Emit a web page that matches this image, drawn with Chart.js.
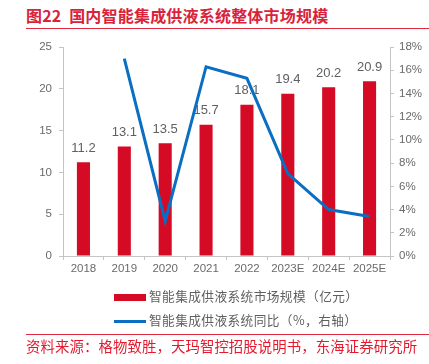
<!DOCTYPE html>
<html>
<head>
<meta charset="utf-8">
<script src="https://cdn.jsdelivr.net/npm/chart.js@4/dist/chart.umd.min.js"></script>
<style>
	body { margin: 0; width: 429px; height: 364px; position: relative; background: #fff; overflow: hidden;
	       font-family: "Noto Sans CJK SC", "Liberation Sans", sans-serif; }
	#title { position: absolute; left: 26px; top: 4px; font-size: 16px; font-weight: bold; color: #d9233a; white-space: nowrap; line-height: 22px; letter-spacing: 0.2px; }
	.rule { position: absolute; left: 26px; width: 403px; height: 1.5px; background: #e0283e; }
	#chart-box { position: absolute; left: 0; top: 0; width: 429px; height: 364px; }
	.leg { position: absolute; left: 114px; font-size: 12.7px; color: #5f5f5f; white-space: nowrap; line-height: 16px; letter-spacing: 0.4px; }
	.leg i { display: inline-block; width: 32px; vertical-align: middle; margin-right: 3px; }
	#source { position: absolute; left: 26px; top: 336px; font-size: 14.4px; color: #e5192d; white-space: nowrap; line-height: 20px; letter-spacing: 0.1px; }
</style>
</head>
<body>
<div id="title">图22&nbsp; 国内智能集成供液系统整体市场规模</div>
<div class="rule" style="top:27.5px"></div>
<div id="chart-box"><canvas id="market-viz" width="429" height="364"></canvas></div>
<div class="leg" style="top:288px"><i style="height:7px;background:#d50b26"></i>智能集成供液系统市场规模（亿元）</div>
<div class="leg" style="top:312px"><i style="height:3px;background:#0a6fc2"></i>智能集成供液系统同比（%，右轴）</div>
<div class="rule" style="top:333.5px;height:1.2px"></div>
<div id="source">资料来源：格物致胜，天玛智控招股说明书，东海证券研究所</div>

<script>
// Categories and values
var years = [ '2018', '2019', '2020', '2021', '2022', '2023E', '2024E', '2025E' ];
var market_size = [ 11.2, 13.1, 13.5, 15.7, 18.1, 19.4, 20.2, 20.9 ];		// 亿元, left axis
var yoy_growth = [ null, 17.0, 3.0, 16.3, 15.3, 7.1, 4.0, 3.4 ];			// %, right axis
var left_ticks = [ 0, 5, 10, 15, 20, 25 ];
var right_ticks = [ 0, 2, 4, 6, 8, 10, 12, 14, 16, 18 ];

var axis_grey = '#c4c4c4';
var tick_font = { family: 'Liberation Sans', size: 11.5 };
var tick_color = '#6a6a6a';

// Draw the value above each bar (before the line is drawn, so the line stays on top)
var barLabels = {
	id: 'barLabels',
	afterDatasetDraw: function(chart, args) {
		if (args.index !== 0) return;
		var ctx = chart.ctx;
		ctx.save();
		ctx.font = '13px "Liberation Sans"';
		ctx.fillStyle = '#606060';
		ctx.textAlign = 'center';
		ctx.textBaseline = 'middle';
		args.meta.data.forEach(function(bar, i) {
			ctx.fillText(market_size[i].toFixed(1), bar.x, bar.y - 14);
		});
		ctx.restore();
	}
};

var ctx = document.getElementById('market-viz');
var cfg = {
	data: {
		labels: years,
		datasets: [
			{	type: 'bar',
				label: '智能集成供液系统市场规模（亿元）',
				data: market_size,
				backgroundColor: '#d50b26',
				barPercentage: 0.8,
				categoryPercentage: 0.4,
				yAxisID: 'y',
				order: 2
			},
			{	type: 'line',
				label: '智能集成供液系统同比（%，右轴）',
				data: yoy_growth,
				borderColor: '#0a6fc2',
				borderWidth: 3,
				pointRadius: 0,
				tension: 0,
				spanGaps: false,
				yAxisID: 'y1',
				order: 1
			}
		]
	},
	options: {
		responsive: false,
		animation: false,
		layout: { padding: { top: 47, left: 0, right: 0, bottom: 0 } },
		plugins: {
			legend: { display: false },
			tooltip: { enabled: false },
			title: { display: false }
		},
		scales: {
			x: {
				grid: { display: true, drawOnChartArea: false, color: axis_grey, tickLength: 4, offset: true },
				border: { color: axis_grey },
				ticks: { font: tick_font, color: tick_color, padding: 2, maxRotation: 0 },
				afterFit: function(s) { s.height = 108; }
			},
			y: {
				position: 'left',
				min: 0, max: 25,
				afterBuildTicks: function(s) { s.ticks = left_ticks.map(function(v) { return { value: v }; }); },
				grid: { drawOnChartArea: false, color: axis_grey, tickLength: 4 },
				border: { color: axis_grey },
				ticks: { font: tick_font, color: tick_color, padding: 7 },
				afterFit: function(s) { s.width = 63; }
			},
			y1: {
				position: 'right',
				min: 0, max: 18,
				afterBuildTicks: function(s) { s.ticks = right_ticks.map(function(v) { return { value: v }; }); },
				grid: { drawOnChartArea: false, color: axis_grey, tickLength: 4 },
				border: { color: axis_grey },
				ticks: { font: tick_font, color: tick_color, padding: 5,
				         callback: function(v) { return v + '%'; } },
				afterFit: function(s) { s.width = 39; }
			}
		}
	},
	plugins: [ barLabels ]
};
new Chart(ctx, cfg);
</script>
</body>
</html>
